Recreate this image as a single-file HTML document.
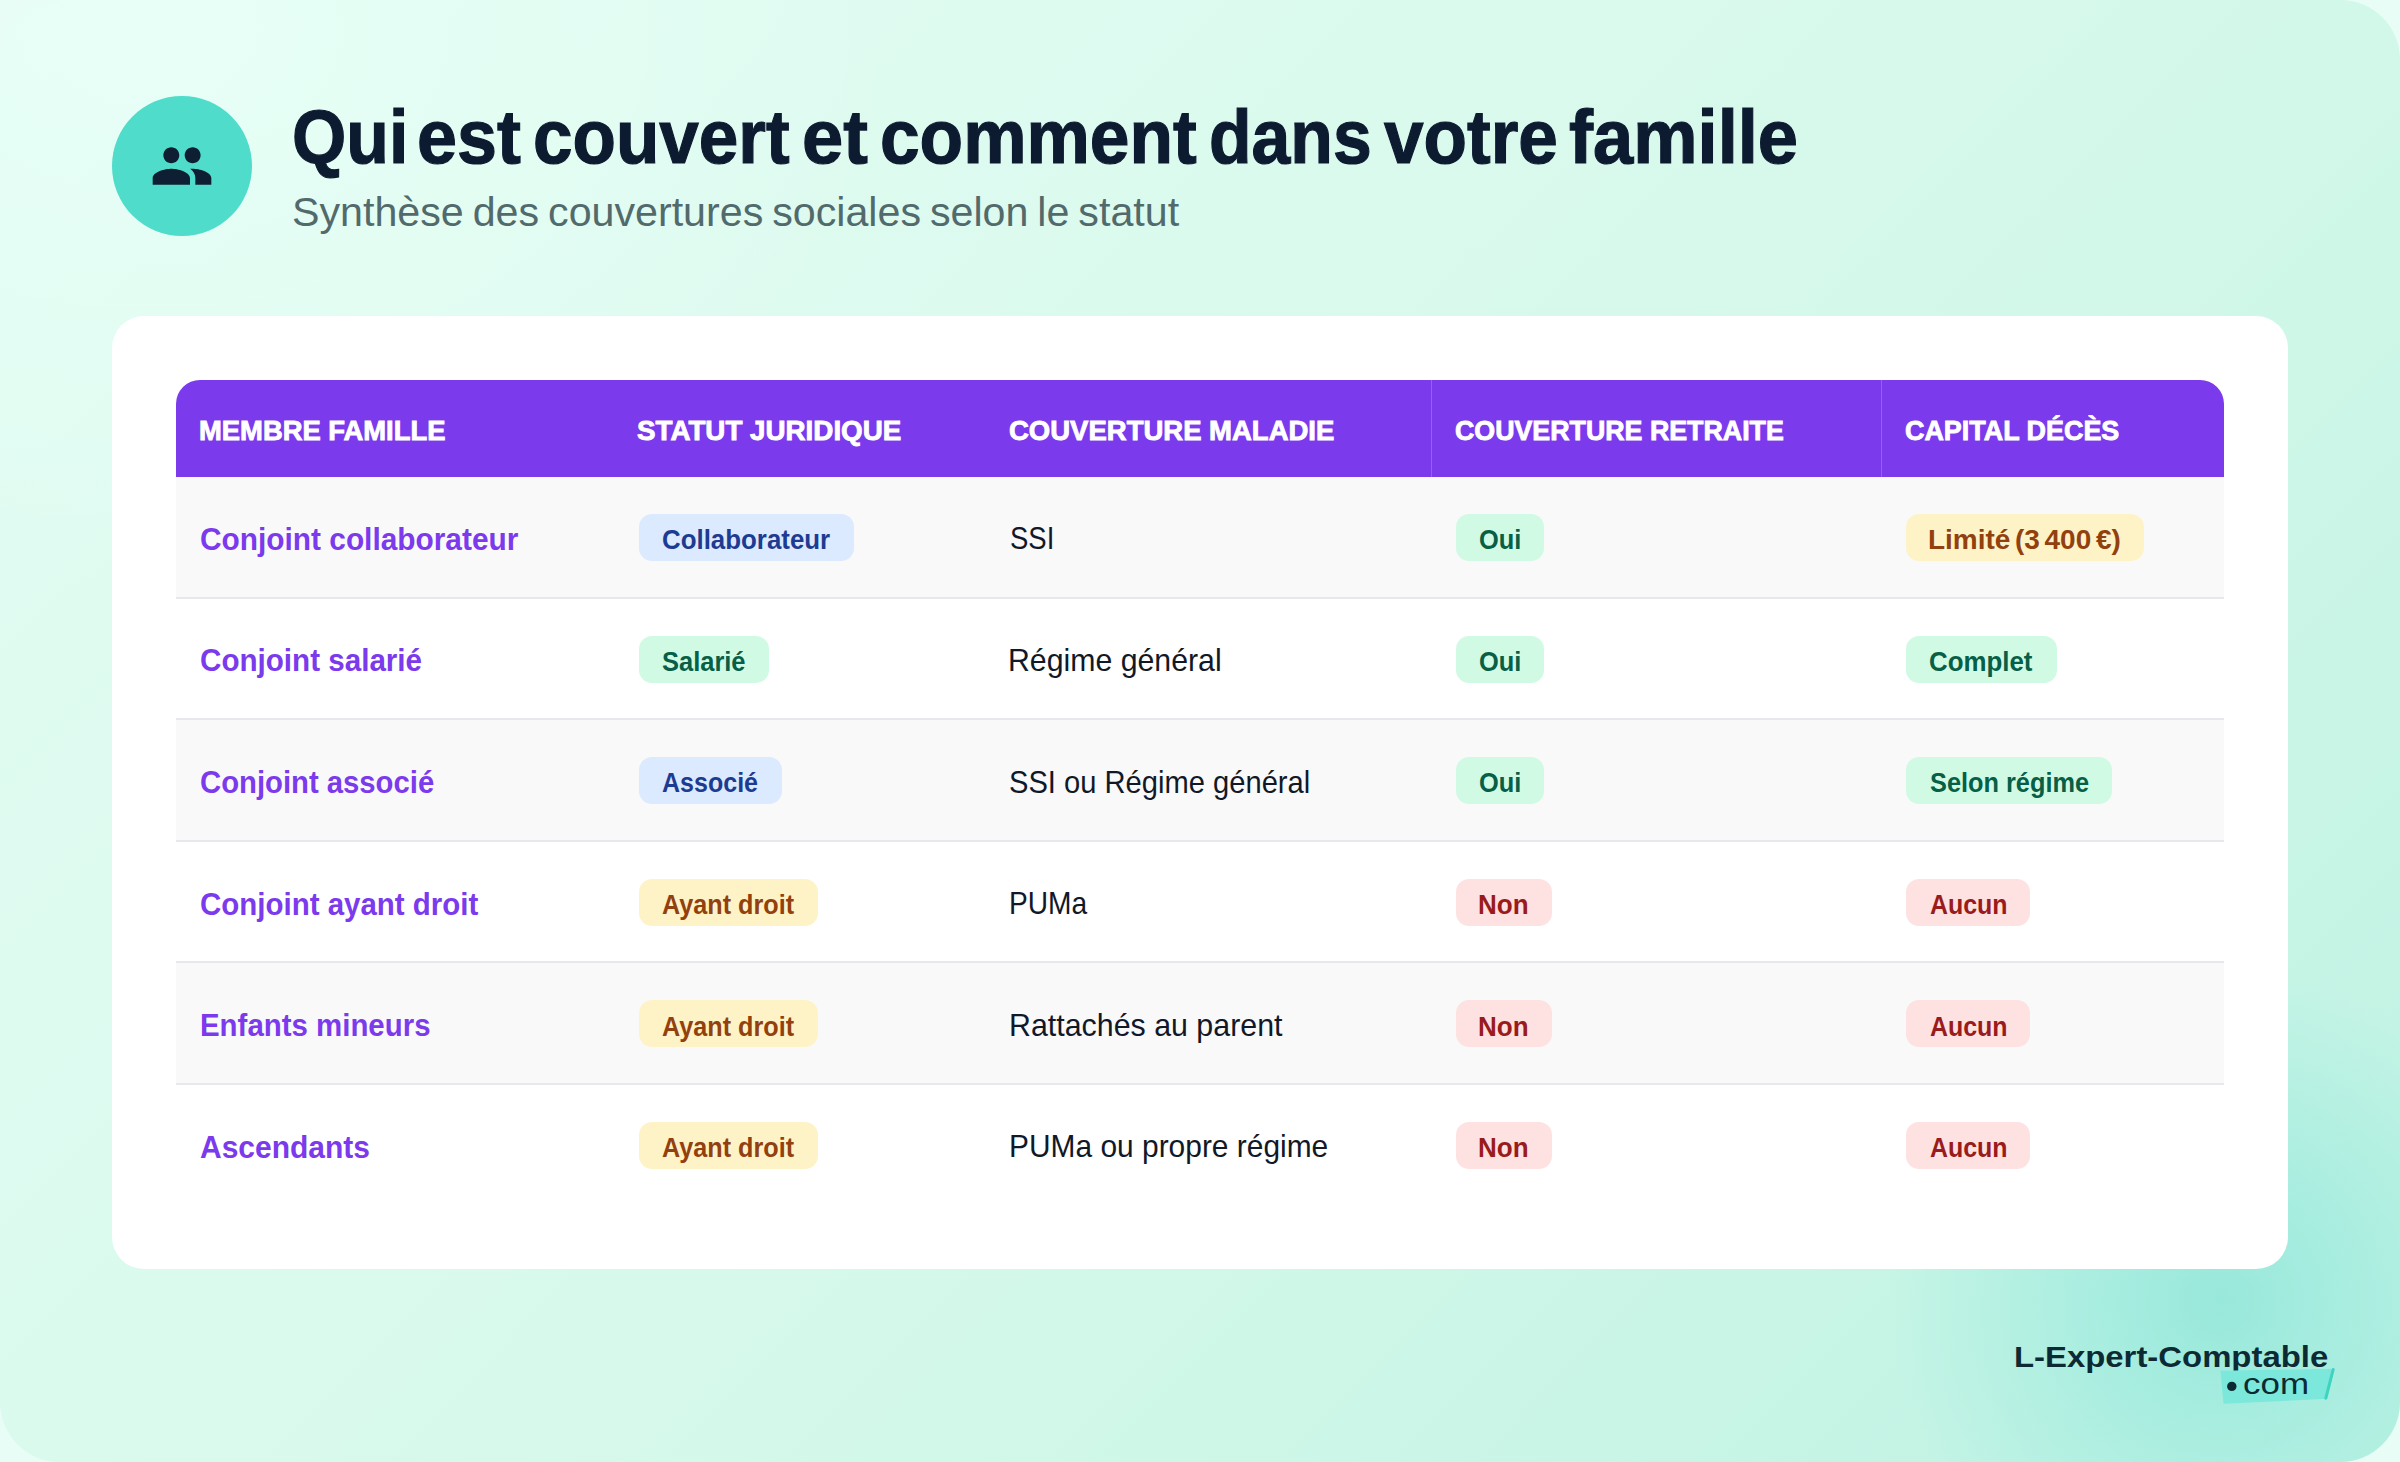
<!DOCTYPE html>
<html lang="fr">
<head>
<meta charset="utf-8">
<title>Qui est couvert et comment dans votre famille</title>
<style>
*{margin:0;padding:0;box-sizing:border-box}
html,body{width:2400px;height:1462px;overflow:hidden;background:#e8fdf5}
body{font-family:"Liberation Sans",sans-serif;position:relative}
#page{position:absolute;left:0;top:0;width:2400px;height:1462px;border-radius:60px;overflow:hidden;
background:
 radial-gradient(circle 330px at 2220px 1300px, rgba(152,232,219,1) 0%, rgba(158,235,222,.72) 38%, rgba(170,238,225,0) 100%),
 radial-gradient(ellipse 800px 560px at 150px 30px, #e7fff6 0%, rgba(231,255,246,0) 100%),
 linear-gradient(135deg,#e3fcf3 0%,#dbfaee 38%,#d2f8e9 62%,#c5f4e5 85%,#bff2e3 100%)}
.t{position:absolute;display:block;white-space:nowrap;line-height:1;transform-origin:0 0}
.icon{position:absolute;left:112px;top:96px;width:140px;height:140px;border-radius:50%;background:#4fdccb}
.icon svg{position:absolute;left:38px;top:38px;width:64px;height:64px}
h1{font-size:76px;font-weight:700;color:#0d1b30}
h1 .t{-webkit-text-stroke:1.2px #0d1b30}
.sub{font-size:41px;color:#526a6b}
.card{position:absolute;left:112px;top:316px;width:2176px;height:953px;background:#fff;border-radius:32px}
.tbl{position:absolute;left:64px;top:64px;width:2048px;height:828px;border-radius:24px 24px 0 0;overflow:hidden}
.hd{position:absolute;left:0;top:0;width:2048px;height:97px;background:#7c3aed;font-size:28.5px;font-weight:700;color:#fff;-webkit-text-stroke:.9px #fff}
.hd i{position:absolute;top:0;width:1.5px;height:97px;background:rgba(255,255,255,.2)}
.row{position:absolute;left:0;width:2048px;height:121.6px;background:#fff;border-bottom:2px solid #e7e8ec}
.row.alt{background:#f9f9fa}
.row.last{border-bottom:none}
.lb{font-size:31px;font-weight:700;color:#7c3aed}
.tx{font-size:31.5px;color:#111827}
.b{position:absolute;top:37px;height:47px;border-radius:13px;font-size:27px;font-weight:700}
.blue{background:#dbeafe;color:#1e3b92}
.green{background:#d1fae5;color:#065f46}
.yellow{background:#fef3c7;color:#92400e}
.red{background:#fee2e2;color:#991b1b}
.logo{font-size:30px;font-weight:700;color:#0c2a33}
.com{font-size:30px;color:#0c2a33}
</style>
</head>
<body>
<div id="page">
 <div class="icon"><svg viewBox="0 0 24 24"><path fill="#0f1f33" d="M16 11c1.660 0 2.990-1.340 2.990-3S17.660 5 16 5c-1.660 0-3 1.340-3 3s1.340 3 3 3zm-8 0c1.660 0 2.990-1.340 2.990-3S9.660 5 8 5C6.340 5 5 6.340 5 8s1.340 3 3 3zm0 2c-2.330 0-7 1.170-7 3.500V19h14v-2.500c0-2.330-4.670-3.500-7-3.500zm8 0c-.290 0-.620.020-.970.050 1.160.840 1.970 1.970 1.970 3.450V19h6v-2.500c0-2.330-4.670-3.500-7-3.500z"/></svg></div>
 <h1><span class="t" style="left:291.57px;top:98.67px;transform:scaleX(0.9183)">Qui</span> <span class="t" style="left:416.50px;top:98.67px;transform:scaleX(0.9454)">est</span> <span class="t" style="left:532.78px;top:98.67px;transform:scaleX(0.9345)">couvert</span> <span class="t" style="left:801.68px;top:98.67px;transform:scaleX(0.9749)">et</span> <span class="t" style="left:879.97px;top:98.67px;transform:scaleX(0.9373)">comment</span> <span class="t" style="left:1209.32px;top:98.67px;transform:scaleX(0.9172)">dans</span> <span class="t" style="left:1383.70px;top:98.67px;transform:scaleX(0.9356)">votre</span> <span class="t" style="left:1569.27px;top:98.67px;transform:scaleX(0.9513)">famille</span> </h1>
 <div class="sub"><span class="t" style="left:292.46px;top:191.79px;transform:scaleX(1.0047);word-spacing:-2.5px">Synthèse des couvertures sociales selon le statut</span></div>
 <div class="card">
  <div class="tbl">
   <div class="hd"><span class="t" style="left:22.79px;top:35.87px;transform:scaleX(0.9608)">MEMBRE FAMILLE</span><span class="t" style="left:461.07px;top:35.87px;transform:scaleX(0.9741)">STATUT JURIDIQUE</span><span class="t" style="left:833.14px;top:35.87px;transform:scaleX(0.9647)">COUVERTURE MALADIE</span><span class="t" style="left:1278.91px;top:35.87px;transform:scaleX(0.9396)">COUVERTURE RETRAITE</span><span class="t" style="left:1729.41px;top:35.87px;transform:scaleX(0.9442)">CAPITAL DÉCÈS</span><i style="left:1254.5px"></i><i style="left:1704.5px"></i></div>
   <div class="row alt" style="top:97.0px"><div class="lb"><span class="t" style="left:24.07px;top:46.86px;transform:scaleX(0.9627)">Conjoint collaborateur</span></div><div class="b blue" style="left:462.5px;width:215.0px"><span class="t" style="left:23.19px;top:13.24px;transform:scaleX(0.9581)">Collaborateur</span></div><div class="tx"><span class="t" style="left:833.84px;top:46.44px;transform:scaleX(0.8734)">SSI</span></div><div class="b green" style="left:1280.0px;width:88.0px"><span class="t" style="left:23.21px;top:13.24px;transform:scaleX(0.9399)">Oui</span></div><div class="b yellow" style="left:1730.0px;width:238.0px"><span class="t" style="left:22.25px;top:13.24px;transform:scaleX(1.0359);word-spacing:-3px">Limité (3 400 €)</span></div></div>
   <div class="row" style="top:218.6px"><div class="lb"><span class="t" style="left:23.87px;top:46.86px;transform:scaleX(0.9549)">Conjoint salarié</span></div><div class="b green" style="left:462.5px;width:130.5px"><span class="t" style="left:23.60px;top:13.24px;transform:scaleX(0.9431)">Salarié</span></div><div class="tx"><span class="t" style="left:832.34px;top:46.44px;transform:scaleX(0.9608)">Régime général</span></div><div class="b green" style="left:1280.0px;width:88.0px"><span class="t" style="left:23.21px;top:13.24px;transform:scaleX(0.9399)">Oui</span></div><div class="b green" style="left:1730.0px;width:150.5px"><span class="t" style="left:23.19px;top:13.24px;transform:scaleX(0.9577)">Complet</span></div></div>
   <div class="row alt" style="top:340.2px"><div class="lb"><span class="t" style="left:23.89px;top:46.86px;transform:scaleX(0.9440)">Conjoint associé</span></div><div class="b blue" style="left:462.5px;width:143.0px"><span class="t" style="left:23.61px;top:13.24px;transform:scaleX(0.9272)">Associé</span></div><div class="tx"><span class="t" style="left:833.39px;top:46.44px;transform:scaleX(0.9249)">SSI ou Régime général</span></div><div class="b green" style="left:1280.0px;width:88.0px"><span class="t" style="left:23.21px;top:13.24px;transform:scaleX(0.9399)">Oui</span></div><div class="b green" style="left:1730.0px;width:206.0px"><span class="t" style="left:23.60px;top:13.24px;transform:scaleX(0.9379)">Selon régime</span></div></div>
   <div class="row" style="top:461.8px"><div class="lb"><span class="t" style="left:23.88px;top:46.86px;transform:scaleX(0.9505)">Conjoint ayant droit</span></div><div class="b yellow" style="left:462.5px;width:179.5px"><span class="t" style="left:23.61px;top:13.24px;transform:scaleX(0.9330)">Ayant droit</span></div><div class="tx"><span class="t" style="left:833.10px;top:46.44px;transform:scaleX(0.8938)">PUMa</span></div><div class="b red" style="left:1280.0px;width:95.7px"><span class="t" style="left:22.37px;top:13.24px;transform:scaleX(0.9638)">Non</span></div><div class="b red" style="left:1730.0px;width:124.0px"><span class="t" style="left:23.61px;top:13.24px;transform:scaleX(0.9238)">Aucun</span></div></div>
   <div class="row alt" style="top:583.4px"><div class="lb"><span class="t" style="left:23.86px;top:46.86px;transform:scaleX(0.9491)">Enfants mineurs</span></div><div class="b yellow" style="left:462.5px;width:179.5px"><span class="t" style="left:23.61px;top:13.24px;transform:scaleX(0.9330)">Ayant droit</span></div><div class="tx"><span class="t" style="left:832.93px;top:46.44px;transform:scaleX(0.9640)">Rattachés au parent</span></div><div class="b red" style="left:1280.0px;width:95.7px"><span class="t" style="left:22.37px;top:13.24px;transform:scaleX(0.9638)">Non</span></div><div class="b red" style="left:1730.0px;width:124.0px"><span class="t" style="left:23.61px;top:13.24px;transform:scaleX(0.9238)">Aucun</span></div></div>
   <div class="row last" style="top:705.0px"><div class="lb"><span class="t" style="left:23.53px;top:46.86px;transform:scaleX(0.9673)">Ascendants</span></div><div class="b yellow" style="left:462.5px;width:179.5px"><span class="t" style="left:23.61px;top:13.24px;transform:scaleX(0.9330)">Ayant droit</span></div><div class="tx"><span class="t" style="left:832.96px;top:46.44px;transform:scaleX(0.9497)">PUMa ou propre régime</span></div><div class="b red" style="left:1280.0px;width:95.7px"><span class="t" style="left:22.37px;top:13.24px;transform:scaleX(0.9638)">Non</span></div><div class="b red" style="left:1730.0px;width:124.0px"><span class="t" style="left:23.61px;top:13.24px;transform:scaleX(0.9238)">Aucun</span></div></div>
  </div>
 </div>
 <div class="logo"><span class="t" style="left:2013.85px;top:1342.20px;transform:scaleX(1.0959)">L-Expert-Comptable</span></div>
 <svg style="position:absolute;left:2210px;top:1360px" width="140" height="54" viewBox="2210 1360 140 54"><path d="M2220.500 1370.800L2334.500 1368.800L2327.400 1398.800L2223.500 1403.800Z" fill="#7ce7db"/><path d="M2333.200 1369.500L2325.800 1398.200" stroke="#3fd3c0" stroke-width="3" stroke-linecap="round" fill="none"/><circle cx="2231.800" cy="1386.400" r="4.700" fill="#0c2a33"/></svg>
 <div class="com"><span class="t" style="left:2242.71px;top:1369.11px;transform:scaleX(1.1645)">com</span></div>
</div>
</body>
</html>
